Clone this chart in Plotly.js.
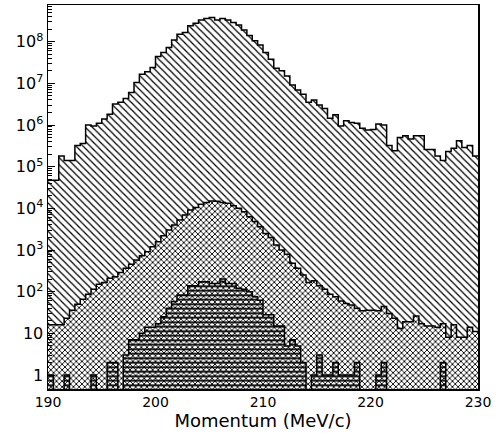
<!DOCTYPE html>
<html><head><meta charset="utf-8">
<script src="https://cdn.plot.ly/plotly-3.0.1.min.js"></script>
<style>html,body{margin:0;padding:0;background:#fff}#chart{width:496px;height:438px}</style>
</head><body><div id="chart"></div>
<script>
// Histogram binning: 80 bins of 0.5 MeV/c from 190 to 230
const binLow = 190;
const binWidth = 0.5;

// Outer histogram (diagonal hatch), counts per bin
const outerCounts = [
  4.7e4, 4.7e4, 1.8e5, 1.4e5, 1.4e5, 3.2e5, 3.6e5, 1.0e6, 9.5e5, 1.1e6,
  1.4e6, 1.8e6, 3.2e6, 3.5e6, 4.3e6, 6.0e6, 1.05e7, 1.66e7, 1.9e7, 2.4e7,
  4.4e7, 5.5e7, 7.2e7, 1.1e8, 1.5e8, 1.66e8, 2.4e8, 2.75e8, 3.3e8, 3.6e8,
  3.8e8, 3.3e8, 3.6e8, 3.3e8, 2.9e8, 2.5e8, 1.9e8, 1.4e8, 1.05e8, 8.3e7,
  5.5e7, 3.8e7, 2.3e7, 2.0e7, 1.5e7, 9.1e6, 6.9e6, 5.5e6, 3.5e6, 4.0e6,
  3.0e6, 2.5e6, 1.45e6, 1.75e6, 9.5e5, 1.26e6, 1.15e6, 1.1e6, 8.3e5, 7.6e5,
  7.8e5, 1.05e6, 1.0e6, 3.2e5, 2.4e5, 5.0e5, 5.5e5, 4.6e5, 5.5e5, 5.5e5,
  2.6e5, 2.6e5, 1.8e5, 1.4e5, 2.3e5, 2.75e5, 4.2e5, 2.9e5, 3.2e5, 1.8e5
];

// Middle histogram (cross hatch)
const middleCounts = [
  16, 16, 16, 23, 36, 50, 66, 87, 115, 151,
  166, 209, 229, 288, 363, 457, 575, 724, 912, 1200,
  1580, 2190, 3020, 3980, 5250, 6920, 9120, 10500, 12600, 13800,
  15100, 14800, 13800, 13200, 11500, 10000, 8300, 6300, 4800, 3600,
  2500, 2000, 1320, 1000, 794, 479, 363, 251, 166, 182,
  138, 115, 87, 76, 60, 52, 48, 40, 35, 36,
  36, 35, 44, 30, 23, 13, 19, 19, 26, 17,
  15, 15, 14, 17, 8, 16, 8, 8, 14, 11
];

// Inner histogram (horizontal hatch)
const innerCounts = [
  1, 0, 0, 1, 0, 0, 0, 0, 1, 0,
  0, 2, 2, 0, 3, 7, 7, 10, 14, 14,
  17, 25, 40, 58, 83, 83, 138, 138, 174, 174,
  158, 158, 200, 158, 158, 120, 115, 100, 75, 62,
  28, 28, 15, 15, 5, 7, 5, 2, 0, 1,
  3, 1, 1, 2, 1, 1, 1, 2, 0, 0,
  0, 1, 2, 0, 0, 0, 0, 0, 0, 0,
  0, 0, 0, 2, 0, 0, 0, 0, 0, 0
];

// Axis ticks
const xTickVals = [190, 200, 210, 220, 230];
const yTickVals = [1, 10, 1e2, 1e3, 1e4, 1e5, 1e6, 1e7, 1e8];
const yTickText = ['1', '10', '10<sup>2</sup>', '10<sup>3</sup>', '10<sup>4</sup>',
                   '10<sup>5</sup>', '10<sup>6</sup>', '10<sup>7</sup>', '10<sup>8</sup>'];
const xTitle = 'Momentum (MeV/c)';

const nBins = outerCounts.length;
const centers = outerCounts.map((_, i) => binLow + binWidth * (i + 0.5));
const edges = Array.from({length: nBins + 1}, (_, i) => binLow + binWidth * i);
function stepY(vals) {
  const v = vals.map(c => (c > 0 ? c : 0.05));
  return v.concat([v[v.length - 1]]);
}
const minorVals = [];
for (let d = 0; d < 9; d++) for (let m = 2; m <= 9; m++) minorVals.push(m * Math.pow(10, d));

function barTrace(vals, shape, bg, size, solidity) {
  return {
    type: 'bar', x: centers, y: vals, width: binWidth,
    marker: { color: '#000', line: { width: 0 },
      pattern: { shape: shape, bgcolor: bg, fgcolor: '#000', size: size, solidity: solidity } },
    hoverinfo: 'skip'
  };
}
function stepTrace(vals) {
  return {
    type: 'scatter', mode: 'lines', x: edges, y: stepY(vals),
    line: { shape: 'hv', color: '#000', width: 1.5 }, hoverinfo: 'skip'
  };
}

const data = [
  barTrace(outerCounts, '\\', '#fff', 5, 0.25),
  barTrace(middleCounts, 'x', '#fff', 4, 0.4),
  barTrace(innerCounts, '-', 'rgba(0,0,0,0)', 4.5, 0.4),
  stepTrace(outerCounts),
  stepTrace(middleCounts),
  stepTrace(innerCounts)
];

const font = { family: 'DejaVu Sans', color: '#000' };
const layout = {
  width: 496, height: 438,
  margin: { l: 48, r: 18, t: 5, b: 49 },
  paper_bgcolor: '#fff', plot_bgcolor: '#fff',
  barmode: 'overlay', bargap: 0, showlegend: false,
  font: font,
  xaxis: {
    range: [190, 230], tickmode: 'array', tickvals: xTickVals,
    ticks: '', showgrid: false, zeroline: false,
    showline: true, linecolor: '#000', linewidth: 1.5, mirror: true,
    tickfont: { family: 'DejaVu Sans', size: 14, color: '#000' },
    title: { text: xTitle, font: { family: 'DejaVu Sans', size: 18, color: '#000' }, standoff: 4 }
  },
  yaxis: {
    type: 'log', range: [-0.336, 8.88],
    tickmode: 'array', tickvals: yTickVals, ticktext: yTickText,
    ticks: 'inside', ticklen: 7, tickwidth: 1, tickcolor: '#000',
    minor: { tickmode: 'array', tickvals: minorVals, ticks: 'inside', ticklen: 4, tickwidth: 1, tickcolor: '#000', showgrid: false },
    showgrid: false, zeroline: false,
    showline: true, linecolor: '#000', linewidth: 1.5, mirror: true,
    tickfont: { family: 'DejaVu Sans', size: 16, color: '#000' }
  }
};

Plotly.newPlot('chart', data, layout, { staticPlot: true, displayModeBar: false });
</script>
</body></html>
